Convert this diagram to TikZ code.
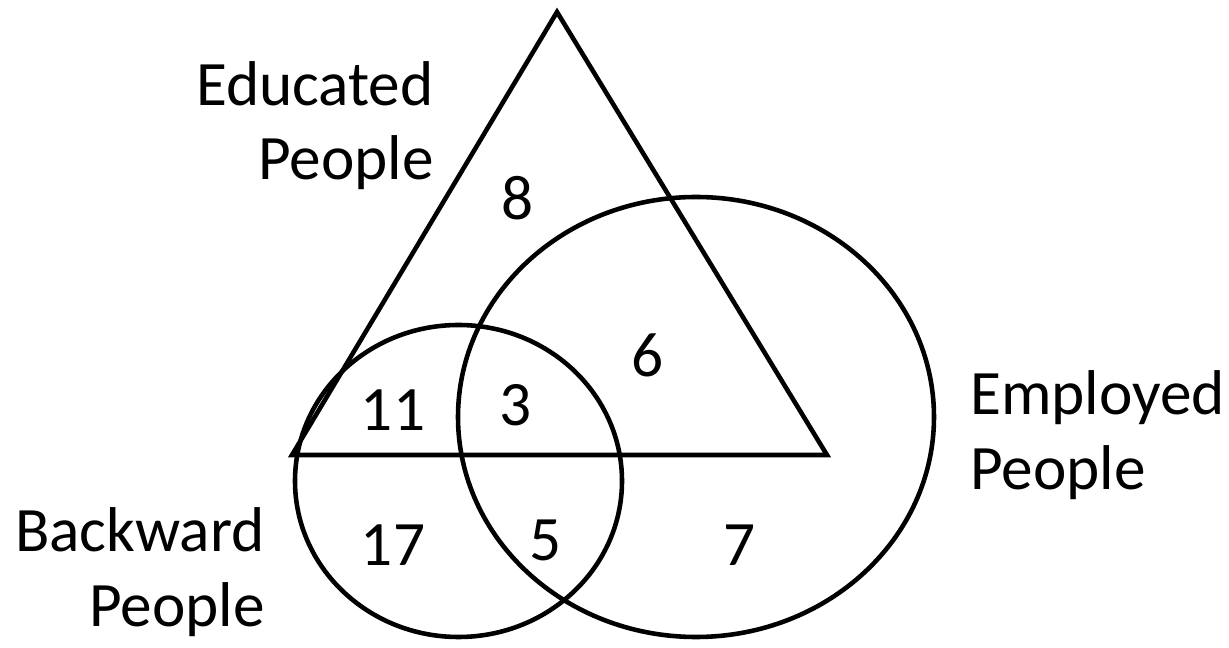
\documentclass[tikz,border=0pt]{standalone}
\usepackage{fontspec}
\setmainfont{Carlito}
\usetikzlibrary{positioning}

\begin{document}
\begin{tikzpicture}[
    set/.style={line width=2.6pt, line join=miter},
    lbl/.style={font=\fontsize{36}{42.5}\selectfont, align=#1, inner sep=0pt},
    num/.style={font=\fontsize{36}{42.5}\selectfont, inner sep=0pt}]
        \useasboundingbox (0,0) rectangle (24.58,12.96);
        % sets
        \draw[set] (11.14,12.72) -- (5.84,3.86) -- (16.54,3.86) -- cycle;
        \draw[set] (13.92,4.62) ellipse [x radius=4.76, y radius=4.40];
        \draw[set] (9.17,3.34) ellipse [x radius=3.27, y radius=3.12];
        % set names
        \node[lbl=right, anchor=east] (educ) at (8.68,10.45) {Educated\\People};
        \node[lbl=left, anchor=west] (empl) at (19.40,4.26) {Employed\\People};
        \node[lbl=right, anchor=east] (back) at (5.30,1.52) {Backward\\People};
        % counts
        \node[num] (eonly) at (10.36,9.00) {8};
        \node[num] (eem) at (12.96,5.86) {6};
        \node[num] (eb) at (7.86,4.76) {11};
        \node[num] (all) at (10.32,4.86) {3};
        \node[num] (bonly) at (7.86,2.06) {17};
        \node[num] (bem) at (10.92,2.16) {5};
        \node[num] (emonly) at (14.80,2.06) {7};
\end{tikzpicture}
\end{document}
